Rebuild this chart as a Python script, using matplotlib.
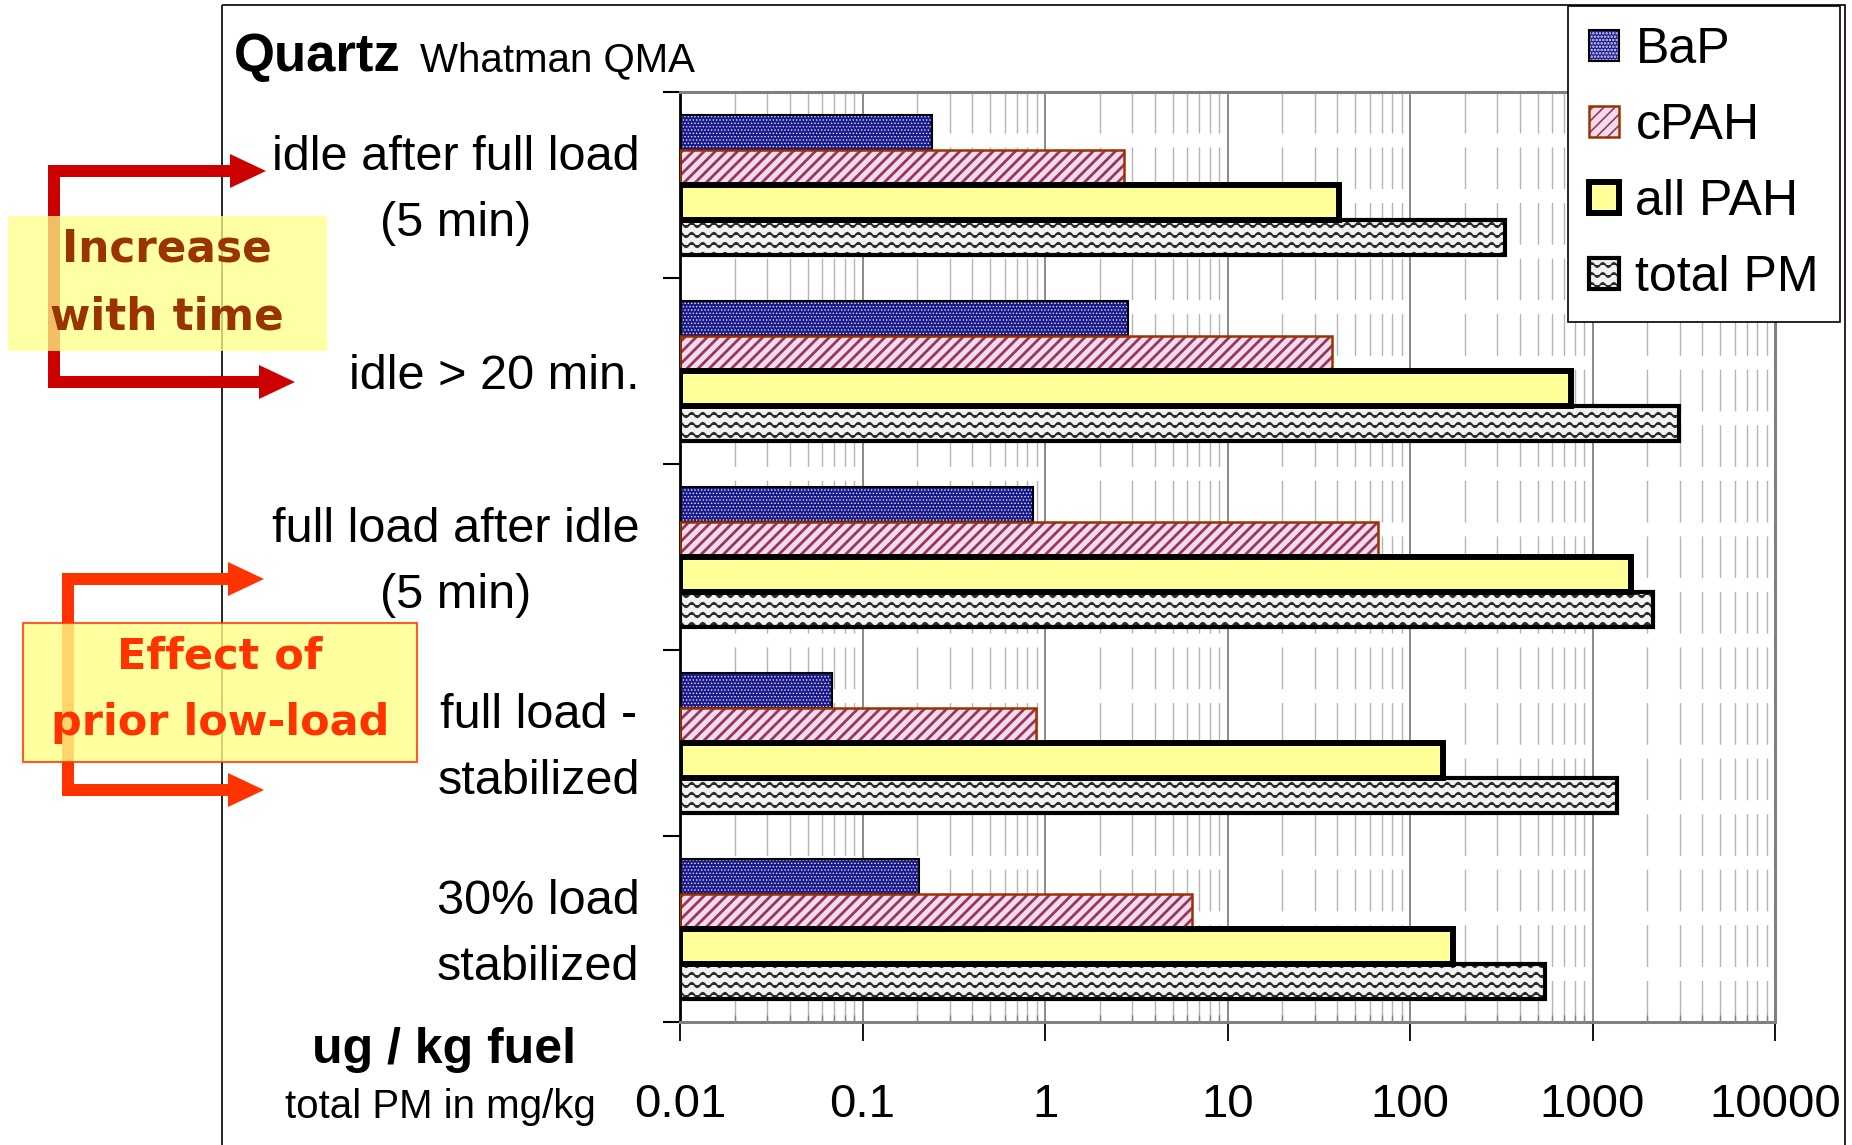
import matplotlib
matplotlib.use("Agg")
import matplotlib.pyplot as plt
import matplotlib.patches as patches
import matplotlib.hatch as mhatch
import matplotlib.transforms as mtransforms
from matplotlib.ticker import FixedLocator, LogLocator, NullFormatter
import numpy as np

W, H = 1852, 1145
XMIN, XMAX = 0.01, 10000

categories = [
    "idle after full load\n(5 min)",
    "idle > 20 min.",
    "full load after idle\n(5 min)",
    "full load -\nstabilized",
    "30% load\nstabilized",
]
series = ["BaP", "cPAH", "all PAH", "total PM"]
bap = [0.24, 2.85, 0.86, 0.068, 0.205]
cpah = [2.7, 37.4, 67.0, 0.89, 6.4]
all_pah = [41.0, 760.0, 1620.0, 152.0, 173.0]
total_pm = [332.0, 2980.0, 2150.0, 1360.0, 547.0]
xticks = [0.01, 0.1, 1, 10, 100, 1000, 10000]
xtick_labels = ["0.01", "0.1", "1", "10", "100", "1000", "10000"]

plt.rcParams["font.family"] = ["Liberation Sans", "DejaVu Sans"]
plt.rcParams["hatch.linewidth"] = 1.2


class WaveHatch(mhatch.HatchPatternBase):
    """Wavy rows, drawn wherever a '-' hatch is asked for."""

    def __init__(self, hatch, density):
        self.num_lines = int((hatch.count("-") + hatch.count("+")) * density * 0.85)
        self.periods = max(1, int(round(self.num_lines * 0.9)))
        self.steps = self.periods * 8
        self.num_vertices = self.num_lines * (self.steps + 1)

    def set_vertices_and_codes(self, vertices, codes):
        rows, step = np.linspace(0.0, 1.0, self.num_lines, False, retstep=True)
        rows += step / 2.0
        x = np.linspace(0.0, 1.0, self.steps + 1)
        wave = 0.22 * step * np.sin(2 * np.pi * self.periods * x)
        n = self.steps + 1
        for i, r in enumerate(rows):
            vertices[i * n:(i + 1) * n, 0] = x
            vertices[i * n:(i + 1) * n, 1] = r + wave
            codes[i * n] = mhatch.Path.MOVETO
            codes[i * n + 1:(i + 1) * n] = mhatch.Path.LINETO


mhatch._hatch_types = [WaveHatch if t is mhatch.HorizontalHatch else t
                       for t in mhatch._hatch_types]

# fill, hatch, hatch colour, hatch width, outline colour, outline width
styles = [
    ("#1a1a8a", ".....", "#e0e0ff", 0.6, "black", 1.5),
    ("#f3dde8", "///", "#993366", 2.0, "#993300", 1.8),
    ("#ffff99", None, "#ffff99", 1.0, "black", 4.3),
    ("#f2f2f2", "--", "#2a2a2a", 1.4, "black", 3.0),
]

fig = plt.figure(figsize=(W / 100, H / 100), dpi=100)
ax = fig.add_axes([680 / W, 1 - 1022 / H, 1095 / W, 930 / H])

bar_h = 0.1875
pos = np.arange(len(categories))
handles = []
for i, (vals, (face, hatch, hcol, hlw, ecol, lw)) in enumerate(
        zip([bap, cpah, all_pah, total_pm], styles)):
    y = pos + (i - 1.5) * bar_h
    widths = np.array(vals) - XMIN
    fill = ax.barh(y, widths, bar_h, left=XMIN, color=face, edgecolor=hcol,
                   hatch=hatch, linewidth=0, zorder=2)
    if hasattr(fill[0], "set_hatch_linewidth"):
        for p in fill:
            p.set_hatch_linewidth(hlw)
    edge = ax.barh(y, widths, bar_h, left=XMIN, facecolor="none",
                   edgecolor=ecol, linewidth=lw, zorder=3)
    handles.append((fill[0], edge[0]))

ax.set_xscale("log")
ax.set_xlim(XMIN, XMAX)
ax.set_ylim(len(categories) - 0.5, -0.5)

ax.set_xticks(xticks, xtick_labels)
ax.xaxis.set_minor_locator(LogLocator(base=10, subs=np.arange(2, 10)))
ax.xaxis.set_minor_formatter(NullFormatter())
ax.tick_params(axis="x", which="major", length=14, width=1.3, direction="out",
               pad=30, labelsize=34, color="black")
ax.tick_params(axis="x", which="minor", length=5, width=1, direction="in",
               color="#808080")

ax.set_yticks(pos, categories)
ax.yaxis.set_minor_locator(FixedLocator(np.arange(-0.5, len(categories), 1)))
ax.tick_params(axis="y", which="major", length=0, pad=29, labelsize=35)
ax.tick_params(axis="y", which="minor", length=12, width=1.5, direction="out")
nudge = mtransforms.ScaledTranslation(0, -0.055, fig.dpi_scale_trans)
for lab in ax.get_yticklabels():
    lab.set_multialignment("center")
    lab.set_linespacing(1.6)
    lab.set_verticalalignment("center")
    lab.set_transform(lab.get_transform() + nudge)

ax.set_axisbelow(True)
ax.grid(True, which="major", axis="x", color="#808080", lw=1.3)
ax.grid(True, which="minor", axis="x", color="#b4b4b4", lw=1.0,
        linestyle=(0, (30, 10)))
ax.grid(False, axis="y")
for side in ["top", "right", "bottom"]:
    ax.spines[side].set_color("#808080")
    ax.spines[side].set_linewidth(2.2)
ax.spines["left"].set_color("black")
ax.spines["left"].set_linewidth(2)

# overlay in pixel units for the frame, title and the call-outs
ov = fig.add_axes([0, 0, 1, 1], zorder=3)
ov.set_xlim(0, W)
ov.set_ylim(H, 0)
ov.axis("off")

ov.add_patch(patches.Rectangle((222, 5), 1845 - 222, H, fill=False,
                               edgecolor="black", lw=1.2, zorder=1))
ov.text(234, 71, "Quartz", fontsize=38, fontweight="bold", va="baseline")
ov.text(420, 71, "Whatman QMA", fontsize=29, va="baseline")
ov.text(444, 1063, "ug / kg fuel", fontsize=36, fontweight="bold",
        ha="center", va="baseline")
ov.text(440, 1118, "total PM in mg/kg", fontsize=29, ha="center",
        va="baseline")


def bracket(x, y_top, y_bot, tip_top, tip_bot, color):
    ov.add_patch(patches.Rectangle((x, y_top - 6), 12, y_bot - y_top + 12,
                                   color=color, lw=0, zorder=2))
    for y, tip in [(y_top, tip_top), (y_bot, tip_bot)]:
        ov.add_patch(patches.FancyArrow(x, y, tip - x, 0, width=12,
                                        head_width=34, head_length=36,
                                        length_includes_head=True,
                                        color=color, lw=0, zorder=2))


bracket(48, 171, 382, 266, 295, "#cc0000")
bracket(62, 579, 790, 264, 264, "#ff3300")

ov.add_patch(patches.Rectangle((8, 216), 319, 135, facecolor="#ffff88",
                               edgecolor="none", alpha=0.75, zorder=3))
ov.text(167, 283, "Increase\nwith time", family="DejaVu Sans", fontsize=31.5,
        fontweight="bold", color="#993300", ha="center", va="center",
        linespacing=1.75, zorder=4)

ov.add_patch(patches.Rectangle((23, 623), 394, 139, facecolor="#ffff88",
                               edgecolor="#ff3300", lw=1.5, alpha=0.8, zorder=3))
ov.text(220, 690, "Effect of\nprior low-load", family="DejaVu Sans",
        fontsize=31, fontweight="bold", color="#ff3300", ha="center",
        va="center", linespacing=1.75, zorder=4)

leg = fig.legend(handles, series, loc="upper right",
                 bbox_to_anchor=(1840 / W, 1 - 6 / H), borderaxespad=0,
                 fontsize=36, handlelength=0.6, handleheight=0.6,
                 handletextpad=0.32, labelspacing=0.6, borderpad=0.42,
                 fancybox=False, framealpha=1, edgecolor="black")
leg.get_frame().set_linewidth(1.2)

fig.savefig("out.png", dpi=100)
